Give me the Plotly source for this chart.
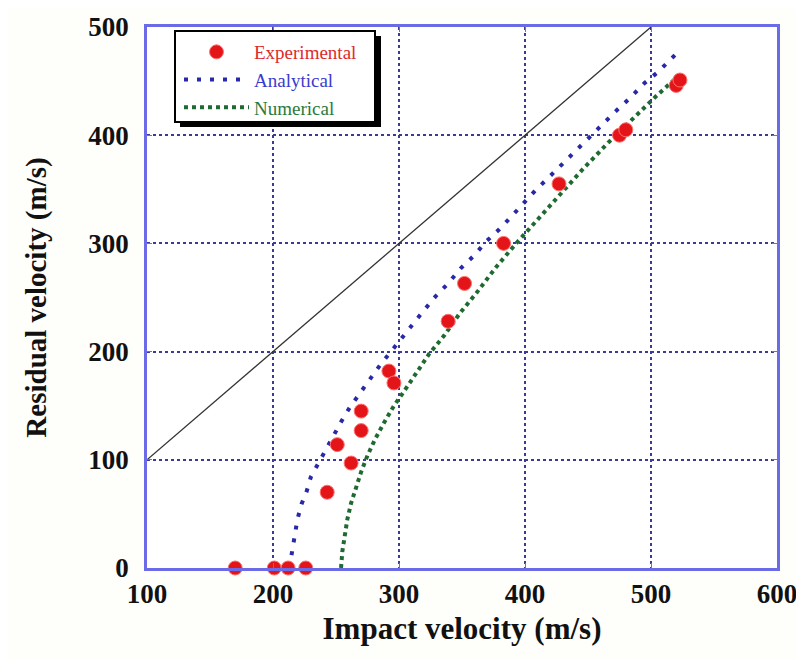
import plotly.graph_objects as go

# ---- data ----
exp_x = [170, 201, 212, 226, 243, 262, 251, 270, 270, 292, 296, 339, 352, 383, 427, 475, 480, 520, 523]
exp_y = [0, 0, 0, 0, 70, 97, 114, 127, 145, 182, 171, 228, 263, 300, 355, 400, 405, 446, 451]

analytical_x = [213, 214, 216, 218, 219.4, 222.6, 226.6, 230, 236, 242, 248, 254.5, 261, 268.5, 277, 285,
                293.6, 301.6, 310, 319, 329, 339, 349, 359.8, 369, 379.6, 389, 398.7, 408, 420, 430, 442,
                452, 462.7, 472.8, 483, 494.7, 505.8, 516, 523]
analytical_y = [0, 7, 20, 34, 45, 59, 70.5, 84, 97, 110.6, 123.5, 136, 148.5, 161, 174, 187.6,
                200, 212, 224.6, 237, 251, 263, 277, 289, 301.6, 313, 324.6, 337.6, 348.7, 362.3, 374, 388,
                399, 411.5, 423, 434, 448, 458.7, 471, 478.7]

numerical_x = [254, 255, 257, 259, 262, 266, 270, 275, 281, 288, 296, 305, 314, 324, 336, 348, 362, 377,
               393, 410, 428, 447, 466, 485, 504, 522]
numerical_y = [0, 15, 30, 45, 60, 75, 89, 104, 119, 134, 150, 165, 180, 198, 215, 235, 255, 278,
               300, 322, 346, 370, 393, 415, 436, 455]

ref_x = [100, 500]
ref_y = [100, 500]

x_ticks = [100, 200, 300, 400, 500, 600]
y_ticks = [0, 100, 200, 300, 400, 500]

SERIF = "Liberation Serif, Times New Roman, serif"

# page has an 8px body margin; figure sized so the whole page is exactly 804x667
OFF = 8
W, H = 804 - 2 * OFF, 667 - 2 * OFF
L, T = 147 - OFF, 27 - OFF
PW, PH = 630, 541
R = W - L - PW
B = H - T - PH

fig = go.Figure()

fig.add_trace(go.Scatter(x=ref_x, y=ref_y, mode="lines", showlegend=False,
                         line=dict(color="#333333", width=1.3), hoverinfo="skip"))

fig.add_trace(go.Scatter(x=numerical_x, y=numerical_y, mode="lines",
                         name="<span style='color:#2a7a3c'>Numerical</span>",
                         line=dict(color="#1f6a30", width=4, dash="4px,4px")))

fig.add_trace(go.Scatter(x=analytical_x, y=analytical_y, mode="lines",
                         name="<span style='color:#3a3ad0'>Analytical</span>",
                         line=dict(color="#2828a8", width=4, dash="4px,9px")))

fig.add_trace(go.Scatter(x=exp_x, y=exp_y, mode="markers", cliponaxis=False,
                         name="<span style='color:#dd2a2a'>Experimental</span>",
                         marker=dict(color="#e31518", size=14,
                                     line=dict(color="#ff7070", width=1))))


def px2paper_x(px):
    return (px - 147) / float(PW)


def px2paper_y(py):
    return (568 - py) / float(PH)


shapes = [
    dict(type="rect", xref="paper", yref="paper", layer="above",
         x0=px2paper_x(180), x1=px2paper_x(381), y0=px2paper_y(127), y1=px2paper_y(36),
         fillcolor="black", line=dict(width=0)),
    dict(type="rect", xref="paper", yref="paper", layer="above",
         x0=px2paper_x(175), x1=px2paper_x(375), y0=px2paper_y(122), y1=px2paper_y(31),
         fillcolor="white", line=dict(color="black", width=2)),
]

fig.update_layout(
    width=W, height=H,
    margin=dict(l=L, r=R, t=T, b=B, pad=0, autoexpand=False),
    paper_bgcolor="#fefefb",
    plot_bgcolor="white",
    font=dict(family=SERIF, color="#111111"),
    shapes=shapes,
    showlegend=True,
    legend=dict(x=px2paper_x(179), y=px2paper_y(33), xanchor="left", yanchor="top",
                bgcolor="rgba(0,0,0,0)", borderwidth=0, itemwidth=65,
                traceorder="reversed",
                font=dict(family=SERIF, size=19)),
    xaxis=dict(range=[100, 600], tickvals=x_ticks, ticktext=["<b>%d</b>" % v for v in x_ticks],
               showgrid=True, gridcolor="#3a3a9a", griddash="3px,3px", gridwidth=1.6,
               showline=True, linecolor="#6b6be8", linewidth=2.5, mirror="ticks",
               ticks="inside", ticklen=5, tickcolor="#6b6be8",
               zeroline=False, ticklabeloverflow="allow", automargin=False,
               tickfont=dict(family=SERIF, size=27, color="#111111"),
               title=dict(text="<b>Impact velocity (m/s)</b>", standoff=10,
                          font=dict(family=SERIF, size=31, color="#111111"))),
    yaxis=dict(range=[0, 500], tickvals=y_ticks, ticktext=["<b>%d</b>" % v for v in y_ticks],
               showgrid=True, gridcolor="#3a3a9a", griddash="3px,3px", gridwidth=1.6,
               showline=True, linecolor="#6b6be8", linewidth=2.5, mirror="ticks",
               ticks="inside", ticklen=5, tickcolor="#6b6be8",
               zeroline=False, ticklabelstandoff=10, ticklabeloverflow="allow", automargin=False,
               tickfont=dict(family=SERIF, size=27, color="#111111"),
               title=dict(text="<b>Residual velocity (m/s)</b>", standoff=34,
                          font=dict(family=SERIF, size=29, color="#111111"))),
)

fig.write_html("out.html")
